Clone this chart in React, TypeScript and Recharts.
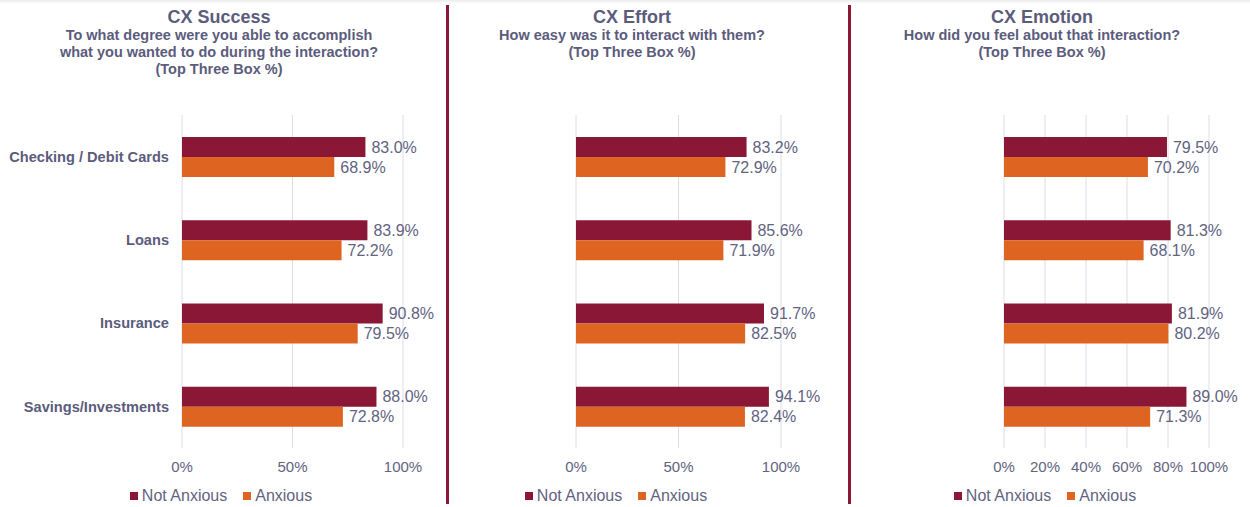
import React from 'react';
import { BarChart, Bar, XAxis, YAxis, CartesianGrid, LabelList, Legend } from 'recharts';

const categories = ['Checking / Debit Cards', 'Loans', 'Insurance', 'Savings/Investments'];

const successNotAnxious = [83.0, 83.9, 90.8, 88.0];
const successAnxious = [68.9, 72.2, 79.5, 72.8];
const effortNotAnxious = [83.2, 85.6, 91.7, 94.1];
const effortAnxious = [72.9, 71.9, 82.5, 82.4];
const emotionNotAnxious = [79.5, 81.3, 81.9, 89.0];
const emotionAnxious = [70.2, 68.1, 80.2, 71.3];

const ticksWide = [0, 50, 100];
const ticksFine = [0, 20, 40, 60, 80, 100];

const seriesNames = ['Not Anxious', 'Anxious'];
const COLORS = ['#8A1736', '#DD6421'];
const TITLE_COLOR = '#5B5C7C';
const TEXT_COLOR = '#62637F';
const GRID_COLOR = '#DCDCE6';
const FONT = 'Arial, "Liberation Sans", sans-serif';

const titles = [
  { title: 'CX Success', lines: ['To what degree were you able to accomplish', 'what you wanted to do during the interaction?', '(Top Three Box %)'], center: 219 },
  { title: 'CX Effort', lines: ['How easy was it to interact with them?', '(Top Three Box %)'], center: 632 },
  { title: 'CX Emotion', lines: ['How did you feel about that interaction?', '(Top Three Box %)'], center: 1042 },
];

const build = (na: number[], ax: number[]) =>
  categories.map((name, i) => ({ name, notAnxious: na[i], anxious: ax[i] }));

const fmt = (v: any) => `${Number(v).toFixed(1)}%`;

const LegendContent = () => (
  <div style={{ display: 'flex', justifyContent: 'center', alignItems: 'center', fontSize: 16, color: TEXT_COLOR, fontFamily: FONT, whiteSpace: 'nowrap' }}>
    {seriesNames.map((n, i) => (
      <span key={n} style={{ display: 'inline-flex', alignItems: 'center', marginRight: i === 0 ? 16 : 0 }}>
        <span style={{ display: 'inline-block', width: 8, height: 8, background: COLORS[i], marginRight: 4 }} />
        {n}
      </span>
    ))}
  </div>
);

type PanelProps = {
  data: any[];
  left: number;
  width: number;
  margin: { top: number; right: number; bottom: number; left: number };
  showY: boolean;
  yWidth: number;
  ticks: number[];
  legendCenter: number;
};

const Panel = ({ data, left, width, margin, showY, yWidth, ticks, legendCenter }: PanelProps) => (
  <div style={{ position: 'absolute', left, top: 0 }}>
    <BarChart width={width} height={507} data={data} layout="vertical" margin={margin} barGap={0} barSize={20}>
      <CartesianGrid horizontal={false} vertical={true} stroke={GRID_COLOR} />
      <XAxis
        type="number"
        domain={[0, 100]}
        ticks={ticks}
        interval={0}
        axisLine={false}
        tickLine={false}
        tickMargin={7}
        height={30}
        tickFormatter={(v: number) => `${v}%`}
        tick={{ fill: TEXT_COLOR, fontSize: 15, fontFamily: FONT }}
      />
      <YAxis
        type="category"
        dataKey="name"
        hide={!showY}
        width={yWidth}
        axisLine={false}
        tickLine={false}
        tickMargin={7}
        tick={{ fill: TITLE_COLOR, fontSize: 14.6, fontWeight: 'bold', fontFamily: FONT }}
      />
      <Legend
        layout="horizontal"
        verticalAlign="middle"
        align="center"
        wrapperStyle={{ top: 487, left: legendCenter - 120, width: 240, height: 18 }}
        content={() => <LegendContent />}
      />
      <Bar dataKey="notAnxious" name={seriesNames[0]} fill={COLORS[0]} isAnimationActive={false}>
        <LabelList dataKey="notAnxious" position="right" offset={6} formatter={fmt} fill={TEXT_COLOR} fontSize={16} fontFamily={FONT} />
      </Bar>
      <Bar dataKey="anxious" name={seriesNames[1]} fill={COLORS[1]} isAnimationActive={false}>
        <LabelList dataKey="anxious" position="right" offset={6} formatter={fmt} fill={TEXT_COLOR} fontSize={16} fontFamily={FONT} />
      </Bar>
    </BarChart>
  </div>
);

export default function App() {
  return (
    <div style={{ position: 'absolute', left: 0, top: 0, width: 1250, height: 507, background: '#fff', fontFamily: FONT, overflow: 'hidden' }}>
      <div style={{ position: 'absolute', left: 0, top: 0, width: 1250, height: 4, background: 'linear-gradient(#ececec, #ffffff)' }} />
      {titles.map((t) => (
        <div
          key={t.title}
          style={{ position: 'absolute', top: 7, left: t.center - 220, width: 440, textAlign: 'center', color: TITLE_COLOR, fontWeight: 'bold' }}
        >
          <div style={{ fontSize: 18, lineHeight: '20px' }}>{t.title}</div>
          {t.lines.map((l) => (
            <div key={l} style={{ fontSize: 14.5, lineHeight: '16.8px' }}>{l}</div>
          ))}
        </div>
      ))}
      <div style={{ position: 'absolute', left: 446, top: 5, width: 3, height: 499, background: '#8A1736' }} />
      <div style={{ position: 'absolute', left: 848, top: 5, width: 3, height: 499, background: '#8A1736' }} />
      <Panel
        data={build(successNotAnxious, successAnxious)}
        left={0}
        width={440}
        margin={{ top: 115, right: 37, bottom: 29, left: 0 }}
        showY={true}
        yWidth={182}
        ticks={ticksWide}
        legendCenter={221}
      />
      <Panel
        data={build(effortNotAnxious, effortAnxious)}
        left={440}
        width={420}
        margin={{ top: 115, right: 79, bottom: 29, left: 136 }}
        showY={false}
        yWidth={0}
        ticks={ticksWide}
        legendCenter={176}
      />
      <Panel
        data={build(emotionNotAnxious, emotionAnxious)}
        left={860}
        width={390}
        margin={{ top: 115, right: 41, bottom: 29, left: 144 }}
        showY={false}
        yWidth={0}
        ticks={ticksFine}
        legendCenter={185}
      />
    </div>
  );
}
